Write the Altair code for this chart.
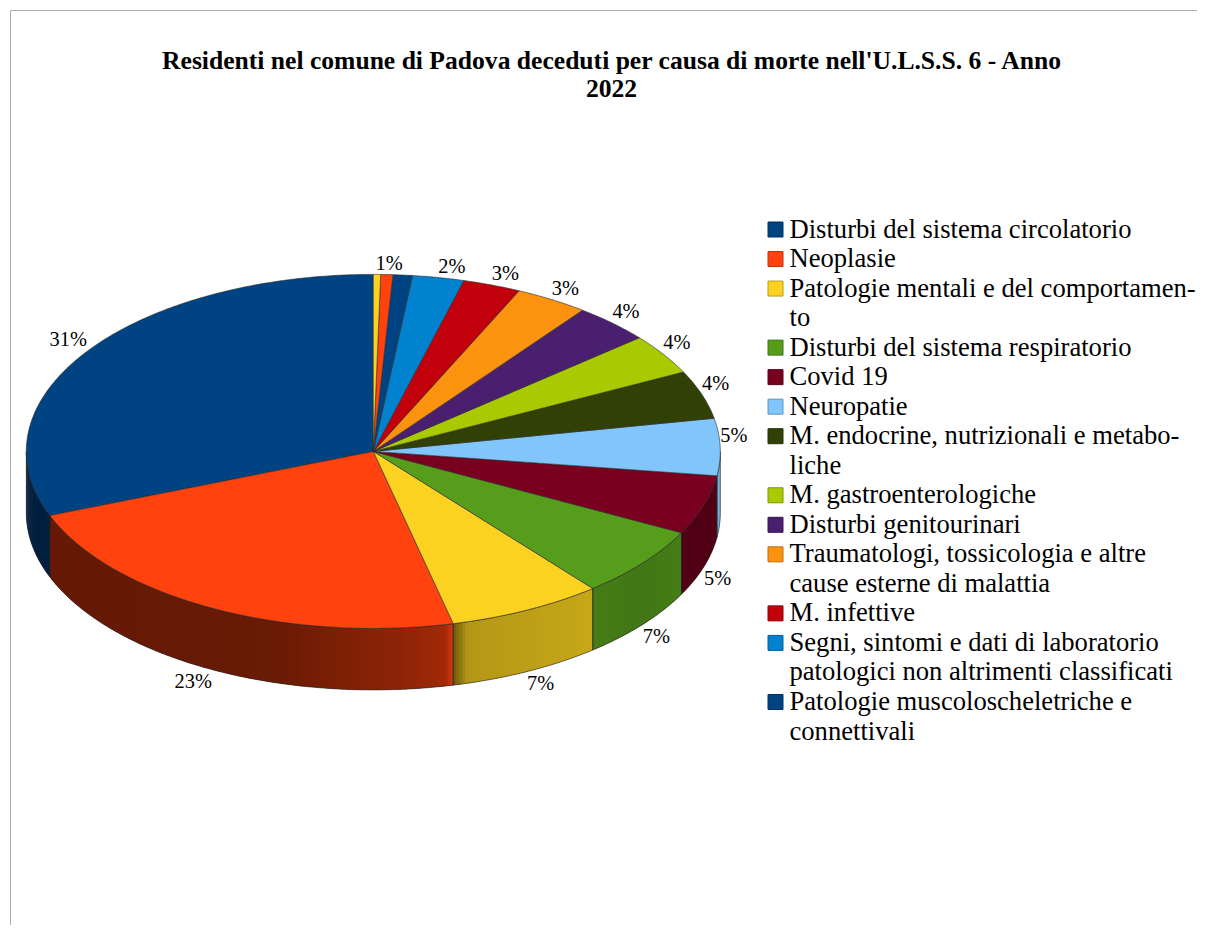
import math
import altair as alt
import numpy as np
import pandas as pd

# ---- data -----------------------------------------------------------------
shares = [30.9, 22.8, 7.2, 6.5, 5.4, 5.2, 4.4, 3.7, 3.6, 3.4, 2.7, 2.4, 0.9, 0.56, 0.34]
labels = ["31%", "23%", "7%", "7%", "5%", "5%", "4%", "4%", "4%", "3%", "3%", "2%", "1%"]
palette = ["#004382", "#ff420e", "#fad21f", "#579d1c", "#7a0020", "#80c6fb",
           "#314004", "#a9ca00", "#4b1f6f", "#fb930e", "#c2000b", "#0082ce"]
legend_entries = [
    ["Disturbi del sistema circolatorio"],
    ["Neoplasie"],
    ["Patologie mentali e del comportamen-", "to"],
    ["Disturbi del sistema respiratorio"],
    ["Covid 19"],
    ["Neuropatie"],
    ["M. endocrine, nutrizionali e metabo-", "liche"],
    ["M. gastroenterologiche"],
    ["Disturbi genitourinari"],
    ["Traumatologi, tossicologia e altre", "cause esterne di malattia"],
    ["M. infettive"],
    ["Segni, sintomi e dati di laboratorio", "patologici non altrimenti classificati"],
    ["Patologie muscoloscheletriche e", "connettivali"],
]
title_lines = ["Residenti nel comune di Padova deceduti per causa di morte nell'U.L.S.S. 6 - Anno", "2022"]

# ---- layout ------------------------------------------------------------------
W, H = 1189, 917
OX, OY = 8, 8
CX, CY, RX, RY = 373.3, 451.4, 347.0, 177.0
DEPTH = 61.5
ASPECT = RY / RX
DEPTH_U = DEPTH / RX
FONT = "Liberation Serif"

# brightness of the side wall: (fraction across the visible wall, factor)
SIDE_SHADE = {
    0: [(0, .46), (1, .5)],
    1: [(0, .40), (.55, .41), (.87, .56), (.98, .63), (1, .85)],
    2: [(0, .42), (.1, .72), (1, .80)],
    3: [(0, .80), (.5, .76), (1, .80)],
    4: [(0, .67), (1, .67)],
    5: [(0, .85), (1, .85)],
}


def unit(theta_deg):
    t = math.radians(theta_deg)
    return (-math.sin(t), -math.cos(t) * ASPECT)


def shade(hex_color, k):
    r, g, b = (int(hex_color[i:i + 2], 16) for i in (1, 3, 5))
    return f"#{int(r * k):02x}{int(g * k):02x}{int(b * k):02x}"


total = sum(shares)
edges = np.cumsum([0] + shares) / total * 360.0
colors = [palette[i % len(palette)] for i in range(len(shares))]


def feature(ring, fill, stroke, width):
    ring = [[float(v) for v in p] for p in ring]
    ring.append(ring[0])
    return {"type": "Feature", "geometry": {"type": "Polygon", "coordinates": [ring]},
            "properties": {}, "fill": fill, "stroke": stroke, "width": width}


side_features, side_outline, top_features = [], [], []
for i, c in enumerate(colors):
    a0, a1 = float(edges[i]), float(edges[i + 1])
    # visible wall is the lower half: theta from 90 to 270
    v0, v1 = max(a0, 90.0), min(a1, 270.0)
    if v1 > v0:
        steps = max(2, int((v1 - v0) / 0.5))
        ts = np.linspace(v0, v1, steps + 1)
        x0, x1 = unit(v0)[0], unit(v1)[0]
        anchors = SIDE_SHADE.get(i, [(0, .7), (1, .7)])
        for j in range(steps):
            # every strip runs on under the next one, so no seam shows between them
            pa, pm = unit(ts[j]), unit(ts[j + 1])
            pb = unit(ts[min(j + 2, steps)])
            frac = ((pa[0] + pm[0]) / 2 - x0) / (x1 - x0)
            k = float(np.interp(frac, [p[0] for p in anchors], [p[1] for p in anchors]))
            col = shade(c, k)
            side_features.append(feature(
                [pa, pm, pb, (pb[0], pb[1] + DEPTH_U), (pm[0], pm[1] + DEPTH_U),
                 (pa[0], pa[1] + DEPTH_U)], col, "none", 0))
        arc = [unit(t) for t in ts]
        wall = arc + [(x, y + DEPTH_U) for x, y in reversed(arc)]
        side_outline.append(feature(wall, "none", "#222222", 0.6))
    n = max(3, int((a1 - a0) / 0.5))
    rim = [unit(t) for t in np.linspace(a0, a1, n + 1)]
    top_features.append(feature([(0.0, 0.0)] + rim, c, "#2a2a2a", 0.6))


def geo(features):
    return alt.Chart(alt.Data(values=features)).mark_geoshape(filled=True).encode(
        fill=alt.Fill("fill:N", scale=None),
        stroke=alt.Stroke("stroke:N", scale=None),
        strokeWidth=alt.StrokeWidth("width:Q", scale=None),
    ).project(type="identity", scale=RX, translate=[CX - OX, CY - OY])


# ---- percentage labels ----------------------------------------------------------
rows = []
for i, text in enumerate(labels):
    mid = float(edges[i] + edges[i + 1]) / 2
    ux, uy = unit(mid)
    px = CX + ux * RX
    py = CY + uy * RX + (DEPTH if uy > 0 else 0)
    right = ux > 0 and i != len(labels) - 1
    rows.append({"text": text, "px": px - OX, "py": py - OY + (12.5 if uy > 0 else -11),
                 "align": "left" if right else "right"})
lab = pd.DataFrame(rows)
xs = alt.Scale(domain=[0, W], range=[0, W], nice=False, zero=False)
ys = alt.Scale(domain=[0, H], range=[0, H], nice=False, zero=False)
X = lambda f: alt.X(f, scale=xs, axis=None)
Y = lambda f: alt.Y(f, scale=ys, axis=None)

lab_layers = [
    alt.Chart(lab[lab["align"] == al]).mark_text(
        font=FONT, fontSize=20.4, color="#000000", align=al, baseline="middle"
    ).encode(x=X("px:Q"), y=Y("py:Q"), text="text:N")
    for al in ("left", "right")
]

# ---- legend --------------------------------------------------------------------
LEG_Y0, LEG_PITCH = 229.5, 29.53
text_rows, key_rows = [], []
line = 0
for i, entry in enumerate(legend_entries):
    key_rows.append({"px": 775.5 - OX, "py": LEG_Y0 + LEG_PITCH * line - OY, "fill": colors[i],
                     "stroke": shade(colors[i], .75)})
    for t in entry:
        text_rows.append({"px": 789.5 - OX, "py": LEG_Y0 + LEG_PITCH * line - OY, "text": t})
        line += 1

keys = alt.Chart(pd.DataFrame(key_rows)).mark_square(size=225, opacity=1, strokeWidth=1).encode(
    x=X("px:Q"), y=Y("py:Q"),
    fill=alt.Fill("fill:N", scale=None), stroke=alt.Stroke("stroke:N", scale=None),
)
leg_text = alt.Chart(pd.DataFrame(text_rows)).mark_text(
    font=FONT, fontSize=26.6, color="#000000", align="left", baseline="middle"
).encode(x=X("px:Q"), y=Y("py:Q"), text="text:N")

# ---- frame ---------------------------------------------------------------------
frame_top = alt.Chart(pd.DataFrame({"a": [0]})).mark_rule(color="#adadad", strokeWidth=1).encode(
    x=alt.value(10.5 - OX), x2=alt.value(W), y=alt.value(10.5 - OY))
frame_left = alt.Chart(pd.DataFrame({"a": [0]})).mark_rule(color="#adadad", strokeWidth=1).encode(
    x=alt.value(10.5 - OX), y=alt.value(10.5 - OY), y2=alt.value(H))

chart = alt.layer(
    frame_top, frame_left,
    geo(side_features), geo(side_outline), geo(top_features),
    *lab_layers, keys, leg_text,
).properties(
    width=W, height=H, padding=0,
    autosize=alt.AutoSizeParams(type="none"),
    title=alt.TitleParams(
        text=title_lines, font=FONT, fontSize=25.6, fontWeight="bold", color="#000000",
        anchor="start", frame="group", align="center", baseline="middle",
        dx=611.5 - OX, dy=106.5, lineHeight=28, offset=0,
    ),
).configure_view(stroke=None)

chart.save("out.html", embed_options={"renderer": "svg", "actions": False})
